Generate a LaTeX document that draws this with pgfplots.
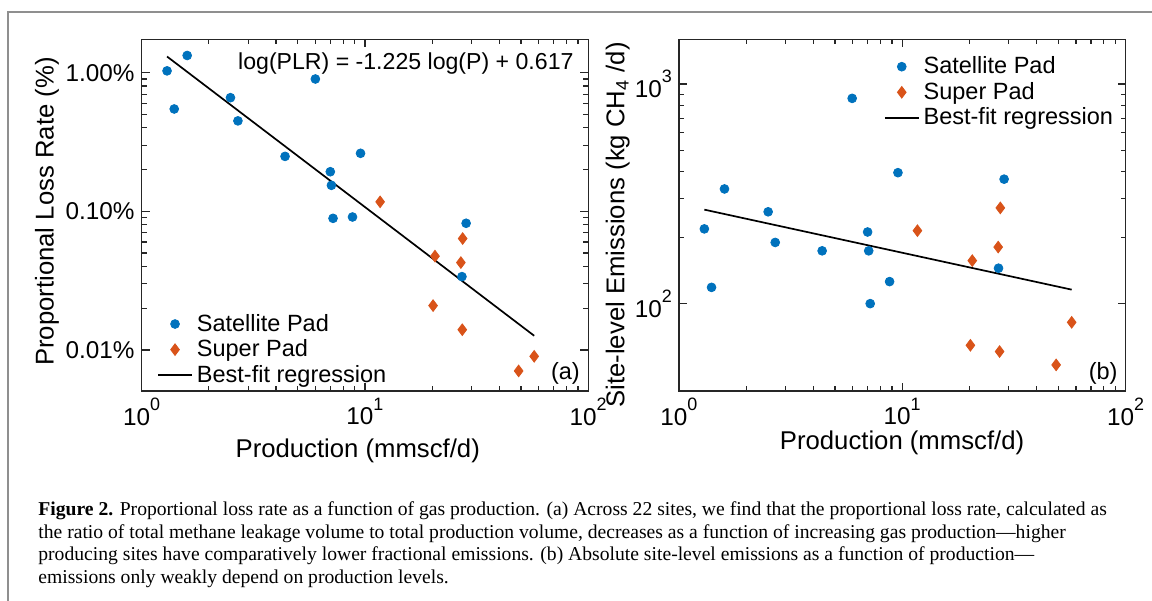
\documentclass[border=0pt]{standalone}
\usepackage{fontspec}
\setmainfont{Liberation Sans}
\newfontfamily\capfont{Liberation Serif}
\usepackage{graphicx}
\usepackage{pgfplots}
\pgfplotsset{compat=1.18}
\definecolor{mblue}{HTML}{0072BD}
\definecolor{morange}{HTML}{D95319}
\definecolor{axgray}{HTML}{262626}
\definecolor{boxgray}{HTML}{8F8F8F}
\newcommand\sups[1]{\raisebox{0.6em}{\fontsize{9}{10}\selectfont #1}}

\pgfplotstableread{
x y
1.30 1.03
1.60 1.33
1.40 0.547
2.50 0.66
2.70 0.449
6.00 0.90
4.39 0.249
9.56 0.262
7.00 0.193
7.08 0.154
7.20 0.089
8.80 0.091
28.4 0.082
27.2 0.0338
}\satA
\pgfplotstableread{
x y
11.7 0.117
20.6 0.0475
27.4 0.0636
26.9 0.0427
20.2 0.0209
27.3 0.0140
57.3 0.0090
48.8 0.00706
}\supA
\pgfplotstableread{
x y
1.30 219
1.40 118.6
1.60 333
2.51 262
2.70 190
5.97 861
4.38 174
9.57 395
7.00 212
7.08 174
7.19 100
8.78 126
28.6 369
27.0 145
}\satB
\pgfplotstableread{
x y
11.7 215
20.6 157
27.5 273
26.9 181
20.2 64.6
27.3 60.5
57.4 82.2
48.9 52.6
}\supB

\begin{document}
\begin{tikzpicture}
\useasboundingbox (0,0) rectangle (576bp,300.5bp);
\fill[white] (0,0) rectangle (576bp,300.5bp);
\draw[boxgray, line width=1bp] (4.15bp,0) -- (4.15bp,294.5bp) -- (576bp,294.5bp);

\begin{loglogaxis}[
  scale only axis, width=223.3bp, height=175.85bp,
  at={(70.8bp,105bp)}, anchor=south west,
  xmin=1, xmax=100, xtick={1,10,100},
  xticklabels={10\sups{0},10\sups{1},10\sups{2}},
  ymin=0.00506, ymax=1.74, ytick={0.01,0.1,1},
  yticklabels={0.01\%,0.10\%,1.00\%},
  tick label style={font=\fontsize{12.2}{14}\selectfont, text=black},
  label style={font=\fontsize{12.9}{15}\selectfont},
  axis line style={draw=axgray, line width=0.7bp},
  major tick style={draw=axgray, line width=0.6bp},
  minor tick style={draw=axgray, line width=0.6bp},
  major tick length=4bp, minor tick length=2.5bp,
  tick align=inside,
  clip=false,
  xlabel={Production (mmscf/d)},
  ylabel={Proportional Loss Rate (\%)},
  xlabel style={at={(axis description cs:0.484,-0.170)}, anchor=center},
  ylabel style={at={(axis description cs:-0.212,0.51)}, anchor=center},
  legend cell align=left,
  legend style={draw=none, fill=none, font=\fontsize{11.8}{13}\selectfont,
    inner sep=0pt, row sep=-1.2bp,
    at={(axis description cs:0.034,0.004)}, anchor=south west},
]
\addplot[only marks, mark=*, mark size=2.2bp, color=mblue, mark options={fill=mblue, draw=mblue}] table {\satA};
\addlegendentry{Satellite Pad}
\addplot[only marks, mark=diamond*, mark size=2.9bp, color=morange, mark options={fill=morange, draw=morange}] table {\supA};
\addlegendentry{Super Pad}
\addplot[no marks, black, line width=0.85bp] coordinates {(1.3,1.307) (57.3,0.01266)};
\addlegendentry{Best-fit regression}
\node[font=\fontsize{11.6}{13}\selectfont, anchor=east, inner sep=0pt] at (axis description cs:0.968,0.9325) {log(PLR) = -1.225 log(P) + 0.617};
\node[font=\fontsize{11.8}{13}\selectfont] at (axis description cs:0.949,0.051) {(a)};
\end{loglogaxis}

\begin{loglogaxis}[
  scale only axis, width=223.3bp, height=175.85bp,
  at={(339.45bp,105bp)}, anchor=south west,
  xmin=1, xmax=100, xtick={1,10,100},
  xticklabels={10\sups{0},10\sups{1},10\sups{2}},
  ymin=40, ymax=1600, ytick={100,1000},
  yticklabels={10\sups{2},10\sups{3}},
  tick label style={font=\fontsize{12.2}{14}\selectfont, text=black},
  label style={font=\fontsize{12.9}{15}\selectfont},
  axis line style={draw=axgray, line width=0.7bp},
  major tick style={draw=axgray, line width=0.6bp},
  minor tick style={draw=axgray, line width=0.6bp},
  major tick length=4bp, minor tick length=2.5bp,
  tick align=inside,
  clip=false,
  xlabel={Production (mmscf/d)},
  ylabel={Site-level Emissions (kg CH\textsubscript{4} /d)},
  xlabel style={at={(axis description cs:0.4997,-0.148)}, anchor=center},
  ylabel style={at={(axis description cs:-0.137,0.472)}, anchor=center},
  legend cell align=left,
  legend style={draw=none, fill=none, font=\fontsize{11.8}{13}\selectfont,
    inner sep=0pt, row sep=-1.2bp,
    at={(axis description cs:0.982,0.963)}, anchor=north east},
]
\addplot[only marks, mark=*, mark size=2.2bp, color=mblue, mark options={fill=mblue, draw=mblue}] table {\satB};
\addlegendentry{Satellite Pad}
\addplot[only marks, mark=diamond*, mark size=2.9bp, color=morange, mark options={fill=morange, draw=morange}] table {\supB};
\addlegendentry{Super Pad}
\addplot[no marks, black, line width=0.85bp] coordinates {(1.3,268) (57.4,115.8)};
\addlegendentry{Best-fit regression}
\node[font=\fontsize{11.8}{13}\selectfont] at (axis description cs:0.950,0.051) {(b)};
\end{loglogaxis}

\begin{scope}[every node/.style={anchor=base west, inner sep=0pt, font=\capfont\fontsize{9.85}{11}\selectfont}]
\node at (19bp,42.5bp) {\textbf{Figure 2.} Proportional loss rate as a function of gas production. (a) Across 22 sites, we find that the proportional loss rate, calculated as};
\node at (19bp,31.35bp) {the ratio of total methane leakage volume to total production volume, decreases as a function of increasing gas production—higher};
\node at (19bp,20.2bp) {producing sites have comparatively lower fractional emissions. (b) Absolute site-level emissions as a function of production—};
\node at (19bp,9.0bp) {emissions only weakly depend on production levels.};
\end{scope}
\end{tikzpicture}
\end{document}
